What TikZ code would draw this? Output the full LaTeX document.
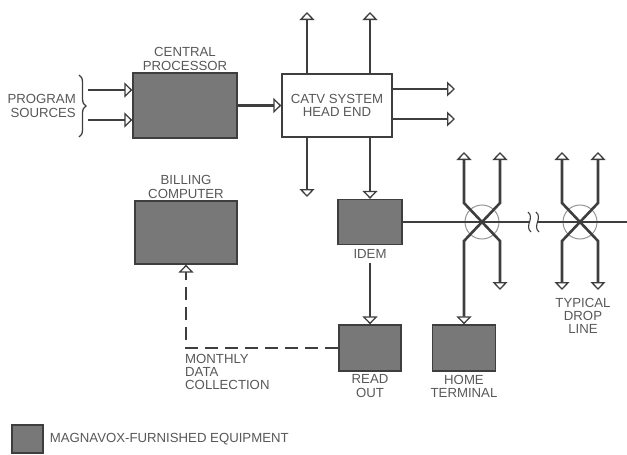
\documentclass[tikz,border=0pt]{standalone}
\usepackage{fontspec}
\setmainfont{Liberation Sans}
\usetikzlibrary{arrows.meta,positioning,calc,decorations.pathreplacing}
\definecolor{inkgray}{RGB}{62,62,62}
\definecolor{textgray}{RGB}{88,88,88}
\definecolor{equipgray}{RGB}{120,120,120}
\newcommand{\lblfont}{\fontsize{13.2}{13.2}\selectfont}
\tikzset{
 >={Triangle[fill=white,length=8pt,width=15pt,line width=1.3pt]},
 equip/.style={rectangle,draw=inkgray,fill=equipgray,line width=1.3pt,inner sep=0pt},
 headbox/.style={rectangle,draw=inkgray,fill=white,line width=1.3pt,align=center,font=\lblfont,text=textgray},
 lbl/.style={align=center,font=\lblfont,text=textgray,inner sep=1pt},
 wire/.style={line width=2.6pt,draw=inkgray},
 feed/.style={->,wire},
 both/.style={<->,wire},
 datalink/.style={dash pattern=on 13pt off 7pt},
 tap/.style={circle,draw=inkgray!55,line width=1pt,minimum size=34pt,inner sep=0pt}}
\begin{document}
\begin{tikzpicture}[x=1pt,y=-1pt]
\useasboundingbox (0,0) rectangle (627,455);
\clip (0,0) rectangle (627,455);
% equipment boxes
\node[equip,minimum width=104pt,minimum height=65pt] (cp) at (185,105.5) {};
\node[headbox,minimum width=110pt,minimum height=63pt] (head) at (337,105.5) {CATV SYSTEM\\HEAD END};
\node[equip,minimum width=102pt,minimum height=63pt] (billing) at (186,232.5) {};
\node[equip,minimum width=64pt,minimum height=45pt] (idem) at (370,222) {};
\node[equip,minimum width=62pt,minimum height=46pt] (readout) at (370,348) {};
\node[equip,minimum width=63pt,minimum height=46pt] (home) at (464,348) {};
\node[equip,minimum width=31pt,minimum height=28pt] (key) at (27.5,439) {};
\node[tap] (tap1) at (482,222) {};
\node[tap] (tap2) at (580,222) {};
% labels
\node[lbl,above=1pt of cp] (cplbl) {CENTRAL\\PROCESSOR};
\node[lbl,above=1pt of billing] (billlbl) {BILLING\\COMPUTER};
\node[lbl,below=3pt of idem] (idemlbl) {IDEM};
\node[lbl,below=2pt of readout] (readlbl) {READ\\OUT};
\node[lbl,below=2pt of home] (homelbl) {HOME\\TERMINAL};
\node[lbl] (droplbl) at (583,316) {TYPICAL\\DROP\\LINE};
\node[lbl,right=5pt of key] (keylbl) {MAGNAVOX-FURNISHED EQUIPMENT};
% program sources
\coordinate (bt) at (79,75); \coordinate (bb) at (79,137); \coordinate (bmid) at (79,106);
\draw[wire,line width=1.3pt,decorate,decoration={brace,amplitude=7pt}] (bt) -- (bb);
\node[lbl,align=right,left=2pt of bmid] (srclbl) {PROGRAM\\SOURCES};
\coordinate (src1) at (88,90); \coordinate (src2) at (88,120);
\draw[feed] (src1) -- (src1 -| cp.west);
\draw[feed] (src2) -- (src2 -| cp.west);
\draw[feed] (cp) -- (head);
% head end outputs
\coordinate (up1) at (307,12); \coordinate (up2) at (370,12); \coordinate (dn1) at (307,197);
\coordinate (out1) at (455,89); \coordinate (out2) at (455,119);
\draw[feed] (head.north -| up1) -- (up1);
\draw[feed] (head.north -| up2) -- (up2);
\draw[feed] (head.east |- out1) -- (out1);
\draw[feed] (head.east |- out2) -- (out2);
\draw[feed] (head.south -| dn1) -- (dn1);
\draw[feed] (head.south -| idem) -- (idem.north);
\draw[feed] ($(idemlbl.south)+(0,3)$) -- (readout.north);
% monthly data collection
\coordinate (bend) at (billing.south |- readout.west);
\draw[feed,datalink] (readout.west) -- (bend) -- (billing.south);
\node[lbl,align=left,anchor=north west] (monthlbl) at ($(bend)+(-2,5)$) {MONTHLY\\DATA\\COLLECTION};
% cable with taps
\coordinate (brk1) at (530,222); \coordinate (brk2) at (538,222); \coordinate (edge) at (635,222);
\draw[wire] (idem.east) -- (brk1);
\draw[feed] (brk2) -- (edge);
\draw[inkgray,line width=1.1pt] (528,212) .. controls (535,218) and (524,226) .. (531,232);
\draw[inkgray,line width=1.1pt] (536,212) .. controls (543,218) and (532,226) .. (539,232);
\draw[both] ($(tap1)+(18,-70)$) -- ($(tap1)+(18,-19)$) -- ($(tap1)+(-18,19)$) -- (home.north);
\draw[both] ($(tap1)+(-18,-70)$) -- ($(tap1)+(-18,-19)$) -- ($(tap1)+(18,19)$) -- ++(0,49);
\draw[both] ($(tap2)+(18,-70)$) -- ($(tap2)+(18,-19)$) -- ($(tap2)+(-18,19)$) -- ++(0,49);
\draw[both] ($(tap2)+(-18,-70)$) -- ($(tap2)+(-18,-19)$) -- ($(tap2)+(18,19)$) -- ++(0,49);
\end{tikzpicture}
\end{document}
